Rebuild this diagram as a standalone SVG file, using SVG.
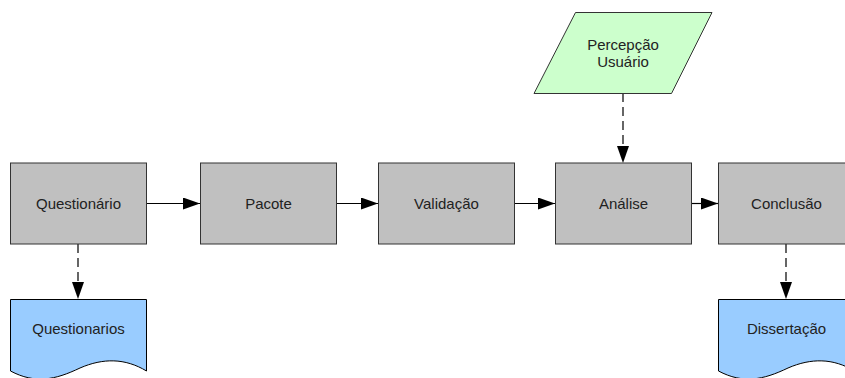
<svg xmlns="http://www.w3.org/2000/svg" width="845" height="378" viewBox="0 0 845 378">
<style>
.proc{fill:#c0c0c0;stroke:#333;stroke-width:1}
.doc{fill:#99ccff;stroke:#000;stroke-width:1}
.io{fill:#ccffcc;stroke:#333;stroke-width:1}
text{font-family:"Liberation Sans",Arial,sans-serif;font-size:15px;fill:#222;text-anchor:middle}
.flow{stroke:#000;stroke-width:1.2;fill:none;marker-end:url(#arr)}
.dash{stroke-dasharray:9,5}
</style>
<defs>
<marker id="arr" viewBox="0 0 17 12" refX="17" refY="6" markerWidth="17" markerHeight="12" markerUnits="userSpaceOnUse" orient="auto">
<path d="M0,0 L17,6 L0,12 Z" fill="#000"/>
</marker>
</defs>
<rect width="845" height="378" fill="#fff"/>
<g id="connectors">
<line class="flow" x1="146" y1="203.5" x2="200" y2="203.5"/>
<line class="flow" x1="337" y1="203.5" x2="378" y2="203.5"/>
<line class="flow" x1="514" y1="203.5" x2="555" y2="203.5"/>
<line class="flow" x1="692" y1="203.5" x2="718" y2="203.5"/>
<line class="flow dash" x1="78" y1="244" x2="78" y2="299"/>
<line class="flow dash" x1="786" y1="244" x2="786" y2="299"/>
<line class="flow dash" x1="623" y1="93" x2="623" y2="163"/>
</g>
<g id="questionario">
<rect class="proc" x="10.5" y="163" width="136" height="81"/>
<text x="78.5" y="208.5">Questionário</text>
</g>
<g id="pacote">
<rect class="proc" x="200.5" y="163" width="136" height="81"/>
<text x="268.5" y="208.5">Pacote</text>
</g>
<g id="validacao">
<rect class="proc" x="378.5" y="163" width="136" height="81"/>
<text x="446.5" y="208.5">Validação</text>
</g>
<g id="analise">
<rect class="proc" x="555.5" y="163" width="136" height="81"/>
<text x="623.5" y="208.5">Análise</text>
</g>
<g id="conclusao">
<rect class="proc" x="718.5" y="163" width="136" height="81"/>
<text x="786.5" y="208.5">Conclusão</text>
</g>
<g id="percepcao">
<polygon class="io" points="575.5,12.5 712,12.5 671.5,93.5 534,93.5"/>
<text x="623" y="50">Percepção</text>
<text x="623" y="67">Usuário</text>
</g>
<g id="questionarios">
<path class="doc" d="M10.5,299.5 H146.5 V371 C125,358 103,358 80,368 C55,380 35,384 10.5,371 Z"/>
<text x="78.5" y="334">Questionarios</text>
</g>
<g id="dissertacao">
<path class="doc" d="M718.5,299.5 H854.5 V371 C833,358 811,358 788,368 C763,380 743,384 718.5,371 Z"/>
<text x="786.5" y="334">Dissertação</text>
</g>
</svg>
